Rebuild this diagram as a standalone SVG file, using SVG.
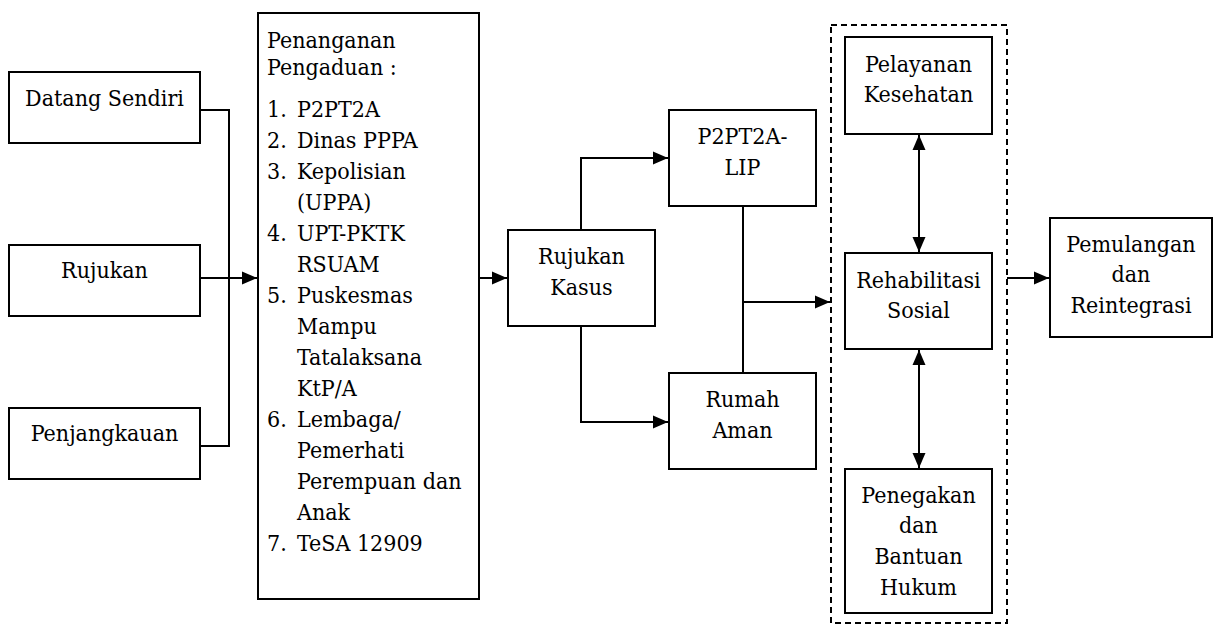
<svg xmlns="http://www.w3.org/2000/svg" width="1215" height="627" viewBox="0 0 1215 627">
<defs>
<style>
.box{fill:#fff;stroke:#000;stroke-width:2}
.t{font-family:'DejaVu Serif Condensed','DejaVu Serif',serif;font-size:23px;fill:#000}
.c{text-anchor:middle}
.ln{fill:none;stroke:#000;stroke-width:2}
.dash{fill:none;stroke:#000;stroke-width:2;stroke-dasharray:6 4}
</style>
<marker id="ah" markerWidth="15" markerHeight="14" refX="15" refY="7" orient="auto-start-reverse" markerUnits="userSpaceOnUse">
<path d="M0,0.5 L15,7 L0,13.5 z" fill="#000"/>
</marker>
</defs>
<rect width="1215" height="627" fill="#fff"/>

<g id="group-layanan">
<rect class="dash" x="831" y="25" width="176" height="598"/>
</g>

<g id="connectors">
<polyline class="ln" points="200,110 229,110 229,446 200,446"/>
<line class="ln" x1="200" y1="278" x2="257" y2="278" marker-end="url(#ah)"/>
<line class="ln" x1="479" y1="278" x2="507" y2="278" marker-end="url(#ah)"/>
<polyline class="ln" points="581,230 581,158 668,158" marker-end="url(#ah)"/>
<polyline class="ln" points="581,326 581,422 668,422" marker-end="url(#ah)"/>
<line class="ln" x1="743" y1="206" x2="743" y2="373"/>
<line class="ln" x1="743" y1="302" x2="830" y2="302" marker-end="url(#ah)"/>
<line class="ln" x1="919" y1="135" x2="919" y2="252" marker-start="url(#ah)" marker-end="url(#ah)"/>
<line class="ln" x1="919" y1="350" x2="919" y2="468" marker-start="url(#ah)" marker-end="url(#ah)"/>
<line class="ln" x1="1007" y1="278" x2="1049" y2="278" marker-end="url(#ah)"/>
</g>

<g id="datang-sendiri">
<rect class="box" x="9" y="72" width="191" height="71"/>
<text class="t c" x="104.5" y="106">Datang Sendiri</text>
</g>
<g id="rujukan">
<rect class="box" x="9" y="245" width="191" height="71"/>
<text class="t c" x="104.5" y="278">Rujukan</text>
</g>
<g id="penjangkauan">
<rect class="box" x="9" y="408" width="191" height="71"/>
<text class="t c" x="104.5" y="441">Penjangkauan</text>
</g>

<g id="penanganan-pengaduan">
<rect class="box" x="258" y="13" width="221" height="586"/>
<text class="t" x="267" y="48">Penanganan</text>
<text class="t" x="267" y="75">Pengaduan :</text>
<text class="t" x="267" y="117">1.</text><text class="t" x="297" y="117">P2PT2A</text>
<text class="t" x="267" y="148">2.</text><text class="t" x="297" y="148">Dinas PPPA</text>
<text class="t" x="267" y="179">3.</text><text class="t" x="297" y="179">Kepolisian</text>
<text class="t" x="297" y="210">(UPPA)</text>
<text class="t" x="267" y="241">4.</text><text class="t" x="297" y="241">UPT-PKTK</text>
<text class="t" x="297" y="272">RSUAM</text>
<text class="t" x="267" y="303">5.</text><text class="t" x="297" y="303">Puskesmas</text>
<text class="t" x="297" y="334">Mampu</text>
<text class="t" x="297" y="365">Tatalaksana</text>
<text class="t" x="297" y="396">KtP/A</text>
<text class="t" x="267" y="427">6.</text><text class="t" x="297" y="427">Lembaga/</text>
<text class="t" x="297" y="458">Pemerhati</text>
<text class="t" x="297" y="489">Perempuan dan</text>
<text class="t" x="297" y="520">Anak</text>
<text class="t" x="267" y="551">7.</text><text class="t" x="297" y="551">TeSA 12909</text>
</g>

<g id="rujukan-kasus">
<rect class="box" x="508" y="230" width="147" height="96"/>
<text class="t c" x="581.5" y="264">Rujukan</text>
<text class="t c" x="581.5" y="295">Kasus</text>
</g>

<g id="p2pt2a-lip">
<rect class="box" x="669" y="110" width="147" height="96"/>
<text class="t c" x="742.5" y="144">P2PT2A-</text>
<text class="t c" x="742.5" y="175">LIP</text>
</g>

<g id="rumah-aman">
<rect class="box" x="669" y="373" width="147" height="96"/>
<text class="t c" x="742.5" y="407">Rumah</text>
<text class="t c" x="742.5" y="438">Aman</text>
</g>

<g id="pelayanan-kesehatan">
<rect class="box" x="845" y="37" width="147" height="97"/>
<text class="t c" x="918.5" y="72">Pelayanan</text>
<text class="t c" x="918.5" y="102">Kesehatan</text>
</g>

<g id="rehabilitasi-sosial">
<rect class="box" x="845" y="253" width="147" height="96"/>
<text class="t c" x="918.5" y="288">Rehabilitasi</text>
<text class="t c" x="918.5" y="318">Sosial</text>
</g>

<g id="penegakan-bantuan-hukum">
<rect class="box" x="845" y="469" width="147" height="144"/>
<text class="t c" x="918.5" y="503">Penegakan</text>
<text class="t c" x="918.5" y="533">dan</text>
<text class="t c" x="918.5" y="564">Bantuan</text>
<text class="t c" x="918.5" y="595">Hukum</text>
</g>

<g id="pemulangan-reintegrasi">
<rect class="box" x="1050" y="218" width="162" height="119"/>
<text class="t c" x="1131" y="252">Pemulangan</text>
<text class="t c" x="1131" y="282">dan</text>
<text class="t c" x="1131" y="313">Reintegrasi</text>
</g>
</svg>
